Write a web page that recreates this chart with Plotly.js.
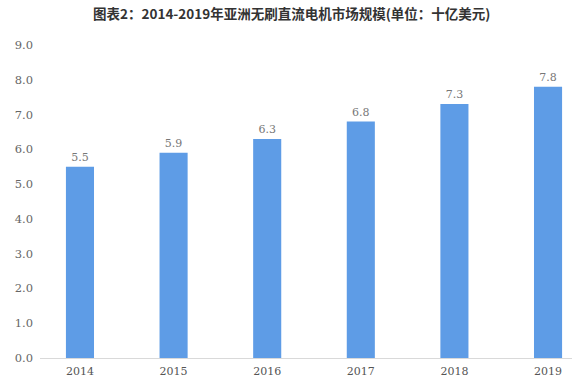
<!DOCTYPE html>
<html><head><meta charset="utf-8">
<script src="https://cdn.plot.ly/plotly-3.0.1.min.js"></script>
<style>html,body{margin:0;padding:0;background:#fff}#c{width:572px;height:385px}</style>
</head><body><div id="c"></div>
<script>
const years = ["2014","2015","2016","2017","2018","2019"];
const values = [5.5, 5.9, 6.3, 6.8, 7.3, 7.8];
const labels = ["5.5","5.9","6.3","6.8","7.3","7.8"];
const yTicks = [0,1,2,3,4,5,6,7,8,9];
const yTickText = ["0.0","1.0","2.0","3.0","4.0","5.0","6.0","7.0","8.0","9.0"];
const titleText = "图表2：2014-2019年亚洲无刷直流电机市场规模(单位：十亿美元)";

const xIdx = years.map((_, i) => i);
const numFont = "DejaVu Serif, Liberation Serif, serif";

Plotly.newPlot("c", [{
  type: "bar",
  x: xIdx,
  y: values,
  width: 0.3,
  marker: {color: "#5e9ce6"},
  text: labels,
  textposition: "outside",
  cliponaxis: false,
  textfont: {family: numFont, size: 11, color: "#777"},
  hoverinfo: "none"
}], {
  width: 572, height: 385,
  margin: {l: 40, r: 0, t: 45, b: 27},
  paper_bgcolor: "#fff", plot_bgcolor: "#fff",
  showlegend: false,
  title: {text: "<b>" + titleText + "</b>", x: 0.51, xanchor: "center", y: 0.962, yanchor: "middle",
          font: {family: "Noto Sans CJK SC, sans-serif", size: 13.5, color: "#333"}},
  xaxis: {range: [-0.427, 5.256], tickvals: xIdx, ticktext: years, showgrid: false, zeroline: false,
          showline: true, linecolor: "#d9d9d9", linewidth: 1, ticks: "", ticklabelstandoff: 3,
          tickfont: {family: numFont, size: 11, color: "#555"}},
  yaxis: {range: [0, 9], tickvals: yTicks, ticktext: yTickText, showgrid: false, zeroline: false,
          showline: false, ticks: "", ticklabelstandoff: 6,
          tickfont: {family: numFont, size: 11.5, color: "#666"}},
  bargap: 0.7
}, {displayModeBar: false, staticPlot: true});
</script></body></html>
